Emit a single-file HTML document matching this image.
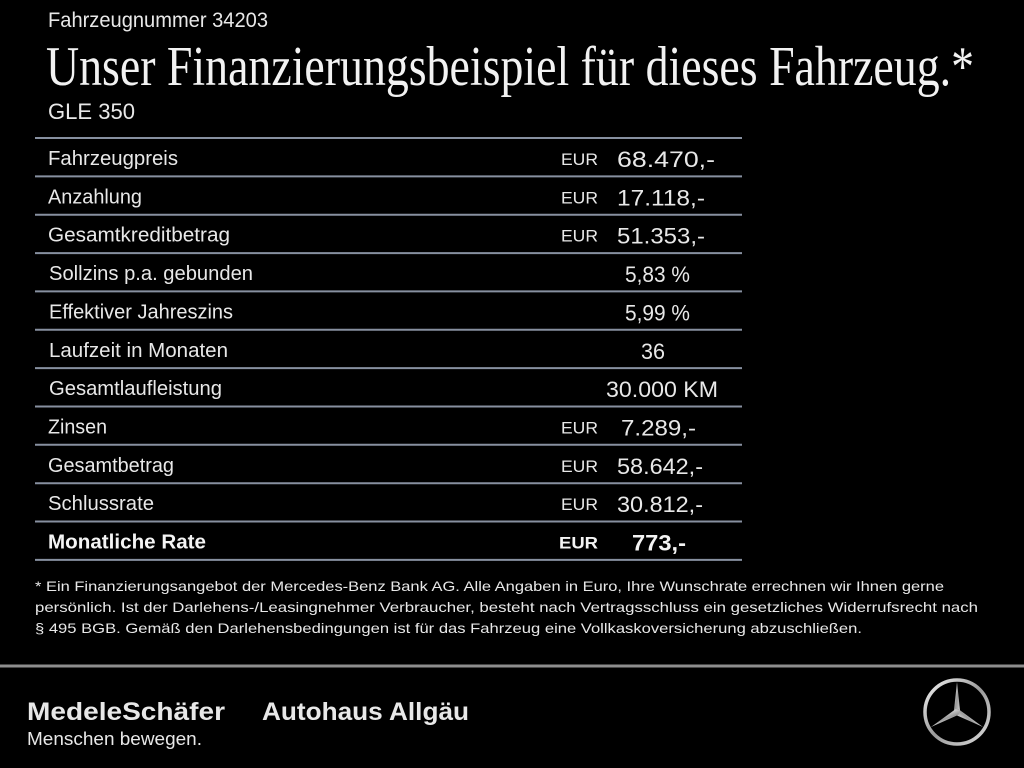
<!DOCTYPE html>
<html><head><meta charset="utf-8"><style>
html,body{margin:0;padding:0;background:#000;width:1024px;height:768px;overflow:hidden}
svg{display:block}
.s{font-family:"Liberation Sans",sans-serif;fill:#e8e8e8}
.t{font-family:"Liberation Serif",serif;fill:#f2f2f2}
</style></head><body>
<svg width="1024" height="768" viewBox="0 0 1024 768" xmlns="http://www.w3.org/2000/svg">
<defs>
<linearGradient id="sil" x1="0" y1="0" x2="1" y2="1">
<stop offset="0" stop-color="#f4f4f4"/><stop offset="0.5" stop-color="#9a9a9a"/><stop offset="1" stop-color="#dcdcdc"/>
</linearGradient>
</defs>
<rect width="1024" height="768" fill="#000"/>
<text class="s" x="48" y="27" font-size="21" textLength="220" lengthAdjust="spacingAndGlyphs">Fahrzeugnummer 34203</text>
<text class="t" x="46" y="85" font-size="56" textLength="928" lengthAdjust="spacingAndGlyphs">Unser Finanzierungsbeispiel für dieses Fahrzeug.*</text>
<text class="s" x="48" y="119" font-size="22" textLength="87" lengthAdjust="spacingAndGlyphs">GLE 350</text>

<g stroke="#8790a0" stroke-width="2">
<line x1="35" y1="138" x2="742" y2="138"/>
<line x1="35" y1="176.4" x2="742" y2="176.4"/>
<line x1="35" y1="214.7" x2="742" y2="214.7"/>
<line x1="35" y1="253.1" x2="742" y2="253.1"/>
<line x1="35" y1="291.4" x2="742" y2="291.4"/>
<line x1="35" y1="329.8" x2="742" y2="329.8"/>
<line x1="35" y1="368.1" x2="742" y2="368.1"/>
<line x1="35" y1="406.5" x2="742" y2="406.5"/>
<line x1="35" y1="444.8" x2="742" y2="444.8"/>
<line x1="35" y1="483.2" x2="742" y2="483.2"/>
<line x1="35" y1="521.5" x2="742" y2="521.5"/>
<line x1="35" y1="559.9" x2="742" y2="559.9"/>
</g>

<g class="s" font-size="20">
<text x="48" y="165" textLength="130" lengthAdjust="spacingAndGlyphs">Fahrzeugpreis</text>
<text x="48" y="203.4" textLength="94" lengthAdjust="spacingAndGlyphs">Anzahlung</text>
<text x="48" y="241.7" textLength="182" lengthAdjust="spacingAndGlyphs">Gesamtkreditbetrag</text>
<text x="49" y="280.1" textLength="204" lengthAdjust="spacingAndGlyphs">Sollzins p.a. gebunden</text>
<text x="49" y="318.4" textLength="184" lengthAdjust="spacingAndGlyphs">Effektiver Jahreszins</text>
<text x="49" y="356.8" textLength="179" lengthAdjust="spacingAndGlyphs">Laufzeit in Monaten</text>
<text x="49" y="395.1" textLength="173" lengthAdjust="spacingAndGlyphs">Gesamtlaufleistung</text>
<text x="48" y="433.5" textLength="59" lengthAdjust="spacingAndGlyphs">Zinsen</text>
<text x="48" y="471.8" textLength="126" lengthAdjust="spacingAndGlyphs">Gesamtbetrag</text>
<text x="48" y="510.2" textLength="106" lengthAdjust="spacingAndGlyphs">Schlussrate</text>
<text x="48" y="548.5" textLength="158" lengthAdjust="spacingAndGlyphs" font-weight="bold" fill="#f4f4f4">Monatliche Rate</text>
</g>

<g class="s" font-size="17">
<text x="561" y="165" textLength="37" lengthAdjust="spacingAndGlyphs">EUR</text>
<text x="561" y="203.4" textLength="37" lengthAdjust="spacingAndGlyphs">EUR</text>
<text x="561" y="241.7" textLength="37" lengthAdjust="spacingAndGlyphs">EUR</text>
<text x="561" y="433.5" textLength="37" lengthAdjust="spacingAndGlyphs">EUR</text>
<text x="561" y="471.8" textLength="37" lengthAdjust="spacingAndGlyphs">EUR</text>
<text x="561" y="510.2" textLength="37" lengthAdjust="spacingAndGlyphs">EUR</text>
<text x="559" y="548.5" textLength="39" lengthAdjust="spacingAndGlyphs" font-weight="bold" fill="#f4f4f4">EUR</text>
</g>

<g class="s" font-size="22">
<text x="617" y="167" textLength="98" lengthAdjust="spacingAndGlyphs">68.470,-</text>
<text x="617" y="205.4" textLength="88" lengthAdjust="spacingAndGlyphs">17.118,-</text>
<text x="617" y="243.7" textLength="88" lengthAdjust="spacingAndGlyphs">51.353,-</text>
<text x="625" y="282" textLength="65" lengthAdjust="spacingAndGlyphs">5,83 %</text>
<text x="625" y="320.4" textLength="65" lengthAdjust="spacingAndGlyphs">5,99 %</text>
<text x="641" y="358.8" textLength="24" lengthAdjust="spacingAndGlyphs">36</text>
<text x="606" y="397.1" textLength="112" lengthAdjust="spacingAndGlyphs">30.000 KM</text>
<text x="621" y="435.5" textLength="75" lengthAdjust="spacingAndGlyphs">7.289,-</text>
<text x="617" y="473.8" textLength="86" lengthAdjust="spacingAndGlyphs">58.642,-</text>
<text x="617" y="512.2" textLength="86" lengthAdjust="spacingAndGlyphs">30.812,-</text>
<text x="632" y="550.5" textLength="54" lengthAdjust="spacingAndGlyphs" font-weight="bold" fill="#f4f4f4">773,-</text>
</g>

<g class="s" font-size="14" fill="#dcdcdc">
<text x="35" y="591" textLength="909" lengthAdjust="spacingAndGlyphs">* Ein Finanzierungsangebot der Mercedes-Benz Bank AG. Alle Angaben in Euro, Ihre Wunschrate errechnen wir Ihnen gerne</text>
<text x="35" y="612" textLength="943" lengthAdjust="spacingAndGlyphs">persönlich. Ist der Darlehens-/Leasingnehmer Verbraucher, besteht nach Vertragsschluss ein gesetzliches Widerrufsrecht nach</text>
<text x="35" y="633" textLength="827" lengthAdjust="spacingAndGlyphs">§ 495 BGB. Gemäß den Darlehensbedingungen ist für das Fahrzeug eine Vollkaskoversicherung abzuschließen.</text>
</g>

<rect x="0" y="664.5" width="1024" height="3" fill="#8e8e8e"/>

<text class="s" x="27" y="720" font-size="25" font-weight="bold" fill="#f4f4f4" textLength="198" lengthAdjust="spacingAndGlyphs">MedeleSchäfer</text>
<text class="s" x="262" y="720" font-size="25" font-weight="bold" fill="#f4f4f4" textLength="207" lengthAdjust="spacingAndGlyphs">Autohaus Allgäu</text>
<text class="s" x="27" y="745" font-size="18" fill="#c4c4c4" textLength="175" lengthAdjust="spacingAndGlyphs">Menschen bewegen.</text>

<g transform="translate(957,712)">
<circle r="32" fill="none" stroke="url(#sil)" stroke-width="3.5"/>
<g fill="url(#sil)">
<polygon points="0,-30 3.2,0 0,3.5 -3.2,0"/>
<polygon points="0,-30 3.2,0 0,3.5 -3.2,0" transform="rotate(120)"/>
<polygon points="0,-30 3.2,0 0,3.5 -3.2,0" transform="rotate(240)"/>
</g>
</g>
</svg>
</body></html>
